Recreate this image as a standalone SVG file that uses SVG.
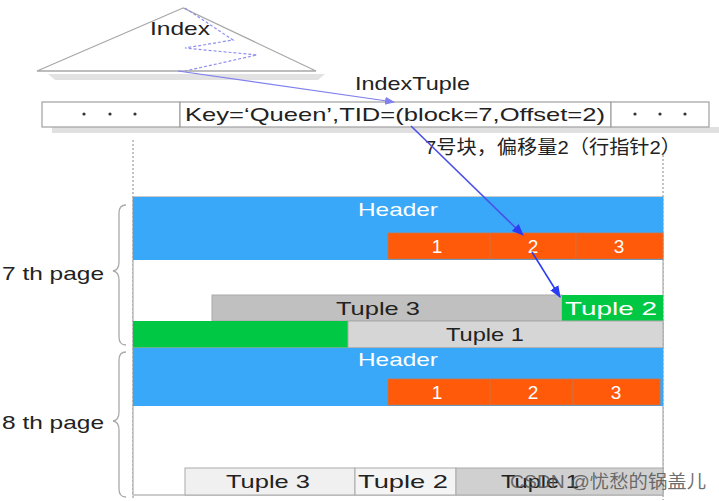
<svg xmlns="http://www.w3.org/2000/svg" width="719" height="501" viewBox="0 0 719 501">
<defs>
<style>
.t{font-family:"Liberation Sans","Noto Sans CJK SC",Arial,sans-serif;}
.lbl{font-size:19px;fill:#222;}
.wh{font-size:19px;fill:#fff;text-anchor:middle;}
.bk{font-size:19px;fill:#222;text-anchor:middle;}
.box{fill:#fff;stroke:#a0a0a0;stroke-width:1.2;}
.hdr{fill:#3aa8f8;}
.or{fill:#ff5a0a;stroke:#c8764c;stroke-width:0.8;}
.dot{stroke:#888;stroke-width:1;stroke-dasharray:2 2;fill:none;}
.brace{fill:none;stroke:#aaa;stroke-width:1.3;}
.pt{fill:#333;}
</style>
<marker id="ah2" viewBox="0 0 10 10" refX="9" refY="5" markerWidth="10" markerHeight="10" orient="auto" markerUnits="userSpaceOnUse">
<path d="M0,1 L10,5 L0,9 z" fill="#8080f0"/>
</marker>
<marker id="ah3" viewBox="0 0 10 10" refX="9" refY="5" markerWidth="12" markerHeight="14" orient="auto" markerUnits="userSpaceOnUse">
<path d="M0,1 L10,5 L0,9 z" fill="#2a3df0"/>
</marker>
</defs>
<rect width="719" height="501" fill="#fff"/>

<g id="index">
<polygon points="48,74 325,74 318,80 55,80" fill="#e2e2e2"/>
<polygon points="183,8 37,71 316,71" fill="#fff" stroke="#a8a8a8" stroke-width="1.3"/>
<polyline points="185,8 233,40 185,48 257,55 185,71" fill="none" stroke="#9090f0" stroke-width="1.2" stroke-dasharray="3 2"/>
<text class="t lbl" x="150" y="35" textLength="60" lengthAdjust="spacingAndGlyphs">Index</text>
</g>

<g id="indextuple">
<rect x="52" y="127" width="667" height="6" fill="#e0e0e0"/>
<rect class="box" x="42" y="102" width="138" height="25"/>
<rect class="box" x="180" y="102" width="431" height="25"/>
<rect class="box" x="611" y="102" width="98" height="25"/>
<circle class="pt" cx="84" cy="114" r="1.6"/><circle class="pt" cx="110" cy="114" r="1.6"/><circle class="pt" cx="135" cy="114" r="1.6"/>
<circle class="pt" cx="635" cy="114" r="1.6"/><circle class="pt" cx="660" cy="114" r="1.6"/><circle class="pt" cx="685" cy="114" r="1.6"/>
<text class="t" x="185" y="121" font-size="19" fill="#222" textLength="420" lengthAdjust="spacingAndGlyphs">Key=‘Queen’,TID=(block=7,Offset=2)</text>
<text class="t lbl" x="355" y="90" textLength="115" lengthAdjust="spacingAndGlyphs">IndexTuple</text>
<text class="t" x="425" y="154" font-size="19" fill="#222" textLength="256" lengthAdjust="spacingAndGlyphs">7号块，偏移量2（行指针2）</text>
</g>

<g id="guides">
<line class="dot" x1="133" y1="140" x2="133" y2="500"/>
<line class="dot" x1="663" y1="155" x2="663" y2="500"/>
</g>

<g id="page7">
<rect x="133" y="197" width="530" height="151" fill="#fff" stroke="#aaa" stroke-width="1.2"/>
<rect class="hdr" x="133" y="197" width="530" height="63"/>
<text class="t wh" x="398" y="216" textLength="80" lengthAdjust="spacingAndGlyphs">Header</text>
<rect class="or" x="388" y="233" width="102" height="26"/>
<rect class="or" x="490" y="233" width="86" height="26"/>
<rect class="or" x="576" y="233" width="87" height="26"/>
<text class="t wh" x="437" y="253">1</text>
<text class="t wh" x="533" y="253">2</text>
<text class="t wh" x="619" y="253">3</text>
<rect x="212" y="295" width="350" height="26" fill="#c0c0c0" stroke="#aaa" stroke-width="1"/>
<text class="t bk" x="378" y="315" textLength="84" lengthAdjust="spacingAndGlyphs">Tuple 3</text>
<rect x="562" y="295" width="101" height="26" fill="#00c844"/>
<text class="t" x="611" y="315" font-size="19" fill="#fff" text-anchor="middle" textLength="92" lengthAdjust="spacingAndGlyphs">Tuple  2</text>
<rect x="133" y="321" width="215" height="27" fill="#00c844"/>
<rect x="348" y="321" width="315" height="27" fill="#d6d6d6" stroke="#aaa" stroke-width="1"/>
<text class="t bk" x="485" y="341" textLength="78" lengthAdjust="spacingAndGlyphs">Tuple 1</text>
<path class="brace" d="M126,205 Q119,205 119,213 L119,262 Q119,270 113,271 Q119,272 119,280 L119,337 Q119,345 126,345"/>
<text class="t lbl" x="2" y="280" textLength="102" lengthAdjust="spacingAndGlyphs">7 th page</text>
</g>

<g id="page8">
<rect x="133" y="348" width="530" height="147" fill="#fff" stroke="#aaa" stroke-width="1.2"/>
<rect class="hdr" x="133" y="348" width="530" height="58"/>
<text class="t wh" x="398" y="366" textLength="80" lengthAdjust="spacingAndGlyphs">Header</text>
<rect class="or" x="388" y="379" width="102" height="26"/>
<rect class="or" x="490" y="379" width="83" height="26"/>
<rect class="or" x="573" y="379" width="87" height="26"/>
<text class="t wh" x="437" y="399">1</text>
<text class="t wh" x="533" y="399">2</text>
<text class="t wh" x="616" y="399">3</text>
<rect x="185" y="468" width="170" height="27" fill="#f0f0f0" stroke="#aaa" stroke-width="1"/>
<text class="t bk" x="268" y="488" textLength="84" lengthAdjust="spacingAndGlyphs">Tuple 3</text>
<rect x="355" y="468" width="101" height="27" fill="#f4f4f4" stroke="#aaa" stroke-width="1"/>
<text class="t bk" x="403" y="488" textLength="90" lengthAdjust="spacingAndGlyphs">Tuple  2</text>
<rect x="456" y="468" width="207" height="27" fill="#d0d0d0" stroke="#aaa" stroke-width="1"/>
<text class="t bk" x="540" y="488" textLength="78" lengthAdjust="spacingAndGlyphs">Tuple 1</text>
<path class="brace" d="M126,352 Q119,352 119,360 L119,412 Q119,420 113,421 Q119,422 119,430 L119,489 Q119,497 126,497"/>
<text class="t lbl" x="2" y="429" textLength="102" lengthAdjust="spacingAndGlyphs">8 th page</text>
</g>

<g id="connectors">
<line x1="178" y1="71" x2="394" y2="102" stroke="#8080f0" stroke-width="1.2" marker-end="url(#ah2)"/>
<line x1="411" y1="126" x2="523" y2="235" stroke="#4a50e8" stroke-width="1.6" marker-end="url(#ah3)"/>
<line x1="532" y1="252" x2="560" y2="297" stroke="#2a3df0" stroke-width="1.6" marker-end="url(#ah3)"/>
</g>

<g id="watermark">
<text class="t" x="510" y="488" font-size="18" fill="#555" fill-opacity="0.85" textLength="196" lengthAdjust="spacingAndGlyphs">CSDN @忧愁的锅盖儿</text>
</g>
</svg>
